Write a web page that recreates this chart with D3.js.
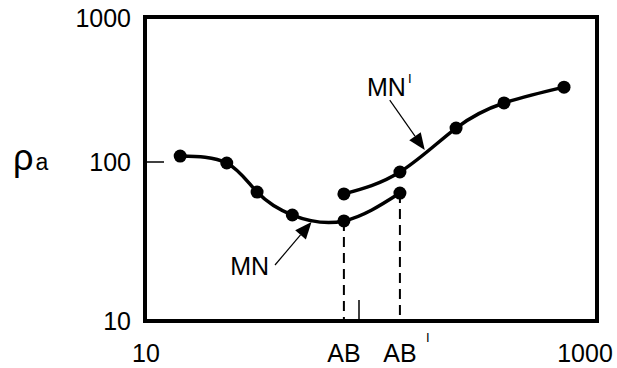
<!DOCTYPE html>
<html>
<head>
<meta charset="utf-8">
<script src="https://cdn.jsdelivr.net/npm/d3@7"></script>
<style>
  body { margin: 0; background: #fff; }
  text { font-family: "Liberation Sans", Arial, sans-serif; fill: #000; }
</style>
</head>
<body>
<svg id="chart" width="617" height="368"></svg>
<script>
// apparent resistivity curves (log-log)
var mnX = [14.6, 24.1, 33.4, 48.8, 85, 152];
var mnY = [110, 98.6, 64.7, 46.4, 42.6, 63.8];
var mnPrimeX = [85, 152, 270, 441, 815];
var mnPrimeY = [63, 86.5, 172, 257, 331];
var abValues = [85, 152];           // AB and AB' spacings (dashed drops)
var xTicks = [10, 1000];
var yTicks = [10, 100, 1000];

var svg = d3.select("#chart");

// the original drawing is not evenly spaced per decade, so use polylinear log scales
var xScale = d3.scaleLog().domain([10, 100, 1000]).range([145, 359, 584]);
var yScale = d3.scaleLog().domain([10, 100, 1000]).range([321, 162, 18]);

var frameLeft = 145, frameRight = 597, frameTop = 17, frameBottom = 321;

// frame
svg.append("rect")
  .attr("x", frameLeft).attr("y", frameTop)
  .attr("width", frameRight - frameLeft).attr("height", frameBottom - frameTop)
  .attr("fill", "none").attr("stroke", "#000").attr("stroke-width", 4);

// inner ticks at 100
svg.append("line")
  .attr("x1", frameLeft).attr("x2", frameLeft + 19)
  .attr("y1", yScale(100)).attr("y2", yScale(100))
  .attr("stroke", "#000").attr("stroke-width", 1.5);
svg.append("line")
  .attr("x1", xScale(100)).attr("x2", xScale(100))
  .attr("y1", frameBottom).attr("y2", frameBottom - 21)
  .attr("stroke", "#000").attr("stroke-width", 1.5);

// y tick labels
svg.selectAll(".ylab").data(yTicks).enter().append("text")
  .attr("class", "ylab")
  .attr("x", 131)
  .attr("y", function(d) { return yScale(d) + 9; })
  .attr("text-anchor", "end")
  .attr("font-size", 25)
  .text(function(d) { return d; });

// x tick labels
svg.selectAll(".xlab").data(xTicks).enter().append("text")
  .attr("class", "xlab")
  .attr("x", function(d) { return xScale(d) + 1; })
  .attr("y", 362)
  .attr("text-anchor", "middle")
  .attr("font-size", 25)
  .text(function(d) { return d; });

// rho_a axis label
var rho = svg.append("text").attr("x", 13).attr("y", 170);
rho.append("tspan").attr("font-size", 36).text("ρ");
rho.append("tspan").attr("font-size", 23).attr("dx", 2).text("a");

// dashed drops from AB, AB'
svg.selectAll(".drop").data(abValues).enter().append("line")
  .attr("class", "drop")
  .attr("x1", function(d) { return xScale(d); })
  .attr("x2", function(d) { return xScale(d); })
  .attr("y1", function(d) { return yScale(mnY[mnX.indexOf(d)]); })
  .attr("y2", frameBottom)
  .attr("stroke", "#000").attr("stroke-width", 2)
  .attr("stroke-dasharray", "10,6");

// AB labels
var abNames = ["AB", "AB"];
var abSup = ["", "I"];
svg.selectAll(".ablab").data(abValues).enter().append("text")
  .attr("class", "ablab")
  .attr("x", function(d) { return xScale(d); })
  .attr("y", 362)
  .attr("text-anchor", "middle")
  .attr("font-size", 25)
  .text(function(d, i) { return abNames[i]; });
svg.selectAll(".absup").data(abValues).enter().append("text")
  .attr("class", "absup")
  .attr("x", function(d) { return xScale(d) + 26; })
  .attr("y", 342)
  .attr("font-size", 13)
  .attr("fill", "#000")
  .text(function(d, i) { return abSup[i]; });

// curves
var line = d3.line()
  .x(function(d) { return xScale(d[0]); })
  .y(function(d) { return yScale(d[1]); })
  .curve(d3.curveNatural);

var series = [d3.zip(mnX, mnY), d3.zip(mnPrimeX, mnPrimeY)];

svg.selectAll(".curve").data(series).enter().append("path")
  .attr("class", "curve")
  .attr("d", line)
  .attr("fill", "none").attr("stroke", "#000").attr("stroke-width", 3.5);

series.forEach(function(s) {
  svg.selectAll(null).data(s).enter().append("circle")
    .attr("cx", function(d) { return xScale(d[0]); })
    .attr("cy", function(d) { return yScale(d[1]); })
    .attr("r", 6.5)
    .attr("fill", "#000");
});

// annotations with arrows, positions in data units
var annotations = [
  { name: "MN", sup: "", anchor: "end", lx: 38, ly: 19.5, tail: [40.5, 22.5], tip: [60, 42] },
  { name: "MN", sup: "I", anchor: "start", lx: 108.6, ly: 287, tail: [137, 269], tip: [196, 121] }
];

annotations.forEach(function(a) {
  var t = svg.append("text")
    .attr("x", xScale(a.lx)).attr("y", yScale(a.ly))
    .attr("text-anchor", a.anchor)
    .attr("font-size", 25);
  t.append("tspan").text(a.name);
  if (a.sup) t.append("tspan").attr("font-size", 13).attr("dx", 2).attr("dy", -13).text(a.sup);

  var x1 = xScale(a.tail[0]), y1 = yScale(a.tail[1]);
  var x2 = xScale(a.tip[0]), y2 = yScale(a.tip[1]);
  var ang = Math.atan2(y2 - y1, x2 - x1);
  var headLen = 17, headW = 7;
  var bx = x2 - headLen * Math.cos(ang), by = y2 - headLen * Math.sin(ang);
  svg.append("line")
    .attr("x1", x1).attr("y1", y1).attr("x2", bx).attr("y2", by)
    .attr("stroke", "#000").attr("stroke-width", 1.2);
  var px = -Math.sin(ang) * headW, py = Math.cos(ang) * headW;
  svg.append("path")
    .attr("d", "M" + x2 + "," + y2 + "L" + (bx + px) + "," + (by + py) + "L" + (bx - px) + "," + (by - py) + "Z")
    .attr("fill", "#000");
});
</script>
</body>
</html>
